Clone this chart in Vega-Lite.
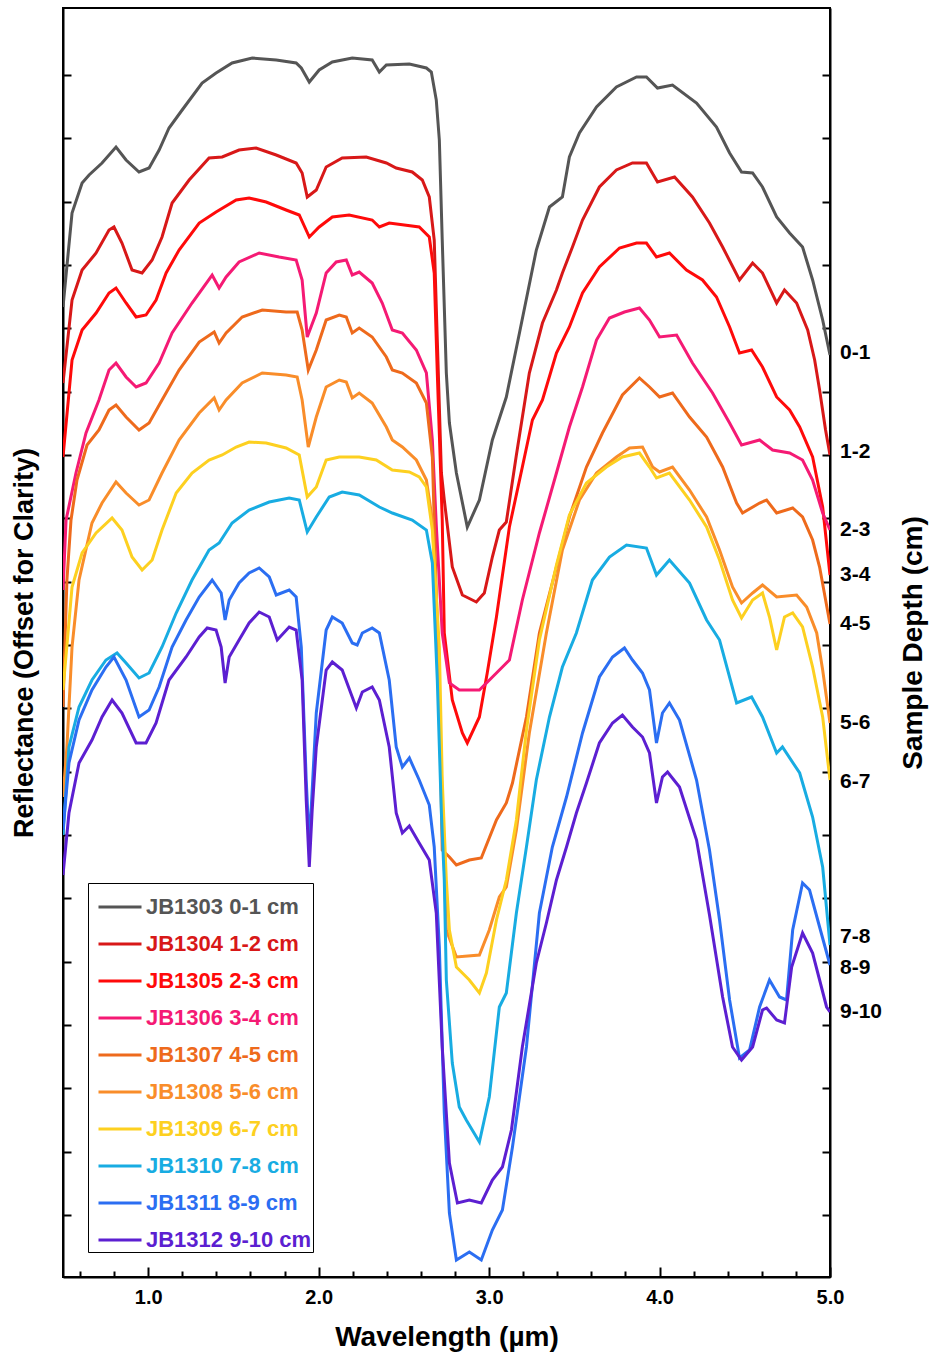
{
"$schema":"https://vega.github.io/schema/vega-lite/v6.json",
"width":767,"height":1269,
"autosize":{"type":"none"},
"padding":{"left":63,"top":8,"right":102,"bottom":80},
"background":"white",
"config":{
 "view":{"stroke":"black","strokeWidth":2},
 "font":"Liberation Sans",
 "axis":{"domainColor":"black","domainWidth":2,"tickColor":"black","tickWidth":2,"grid":false,"labelFont":"Liberation Sans","titleFont":"Liberation Sans","labelColor":"black","titleColor":"black"}
},
"datasets":{
"spectra":[
{"s":"JB1303 0-1 cm","w":0.5,"r":970},{"s":"JB1303 0-1 cm","w":0.553,"r":1064},{"s":"JB1303 0-1 cm","w":0.612,"r":1094},{"s":"JB1303 0-1 cm","w":0.653,"r":1102},{"s":"JB1303 0-1 cm","w":0.729,"r":1114},{"s":"JB1303 0-1 cm","w":0.811,"r":1130},{"s":"JB1303 0-1 cm","w":0.87,"r":1117},{"s":"JB1303 0-1 cm","w":0.946,"r":1105},{"s":"JB1303 0-1 cm","w":1.005,"r":1109},{"s":"JB1303 0-1 cm","w":1.064,"r":1127},{"s":"JB1303 0-1 cm","w":1.122,"r":1149},{"s":"JB1303 0-1 cm","w":1.199,"r":1167},{"s":"JB1303 0-1 cm","w":1.316,"r":1194},{"s":"JB1303 0-1 cm","w":1.398,"r":1204},{"s":"JB1303 0-1 cm","w":1.492,"r":1214},{"s":"JB1303 0-1 cm","w":1.61,"r":1219},{"s":"JB1303 0-1 cm","w":1.751,"r":1217},{"s":"JB1303 0-1 cm","w":1.868,"r":1214},{"s":"JB1303 0-1 cm","w":1.898,"r":1209},{"s":"JB1303 0-1 cm","w":1.945,"r":1195},{"s":"JB1303 0-1 cm","w":2.003,"r":1207},{"s":"JB1303 0-1 cm","w":2.08,"r":1215},{"s":"JB1303 0-1 cm","w":2.197,"r":1219},{"s":"JB1303 0-1 cm","w":2.314,"r":1217},{"s":"JB1303 0-1 cm","w":2.356,"r":1205},{"s":"JB1303 0-1 cm","w":2.397,"r":1212},{"s":"JB1303 0-1 cm","w":2.532,"r":1213},{"s":"JB1303 0-1 cm","w":2.632,"r":1209},{"s":"JB1303 0-1 cm","w":2.661,"r":1205},{"s":"JB1303 0-1 cm","w":2.69,"r":1177},{"s":"JB1303 0-1 cm","w":2.708,"r":1137},{"s":"JB1303 0-1 cm","w":2.725,"r":1037},{"s":"JB1303 0-1 cm","w":2.749,"r":904},{"s":"JB1303 0-1 cm","w":2.767,"r":854},{"s":"JB1303 0-1 cm","w":2.808,"r":804},{"s":"JB1303 0-1 cm","w":2.872,"r":750},{"s":"JB1303 0-1 cm","w":2.943,"r":777},{"s":"JB1303 0-1 cm","w":3.019,"r":837},{"s":"JB1303 0-1 cm","w":3.101,"r":880},{"s":"JB1303 0-1 cm","w":3.178,"r":944},{"s":"JB1303 0-1 cm","w":3.277,"r":1027},{"s":"JB1303 0-1 cm","w":3.354,"r":1070},{"s":"JB1303 0-1 cm","w":3.43,"r":1080},{"s":"JB1303 0-1 cm","w":3.471,"r":1120},{"s":"JB1303 0-1 cm","w":3.53,"r":1144},{"s":"JB1303 0-1 cm","w":3.63,"r":1170},{"s":"JB1303 0-1 cm","w":3.747,"r":1190},{"s":"JB1303 0-1 cm","w":3.865,"r":1200},{"s":"JB1303 0-1 cm","w":3.923,"r":1200},{"s":"JB1303 0-1 cm","w":3.988,"r":1189},{"s":"JB1303 0-1 cm","w":4.076,"r":1192},{"s":"JB1303 0-1 cm","w":4.217,"r":1174},{"s":"JB1303 0-1 cm","w":4.334,"r":1150},{"s":"JB1303 0-1 cm","w":4.411,"r":1124},{"s":"JB1303 0-1 cm","w":4.481,"r":1105},{"s":"JB1303 0-1 cm","w":4.546,"r":1104},{"s":"JB1303 0-1 cm","w":4.604,"r":1090},{"s":"JB1303 0-1 cm","w":4.687,"r":1060},{"s":"JB1303 0-1 cm","w":4.763,"r":1044},{"s":"JB1303 0-1 cm","w":4.839,"r":1030},{"s":"JB1303 0-1 cm","w":4.898,"r":997},{"s":"JB1303 0-1 cm","w":4.957,"r":957},{"s":"JB1303 0-1 cm","w":5.0,"r":922},

{"s":"JB1304 1-2 cm","w":0.5,"r":894},{"s":"JB1304 1-2 cm","w":0.553,"r":977},{"s":"JB1304 1-2 cm","w":0.612,"r":1007},{"s":"JB1304 1-2 cm","w":0.694,"r":1024},{"s":"JB1304 1-2 cm","w":0.77,"r":1047},{"s":"JB1304 1-2 cm","w":0.799,"r":1050},{"s":"JB1304 1-2 cm","w":0.846,"r":1034},{"s":"JB1304 1-2 cm","w":0.905,"r":1007},{"s":"JB1304 1-2 cm","w":0.964,"r":1004},{"s":"JB1304 1-2 cm","w":1.023,"r":1017},{"s":"JB1304 1-2 cm","w":1.081,"r":1040},{"s":"JB1304 1-2 cm","w":1.14,"r":1074},{"s":"JB1304 1-2 cm","w":1.24,"r":1097},{"s":"JB1304 1-2 cm","w":1.357,"r":1119},{"s":"JB1304 1-2 cm","w":1.434,"r":1120},{"s":"JB1304 1-2 cm","w":1.533,"r":1127},{"s":"JB1304 1-2 cm","w":1.633,"r":1129},{"s":"JB1304 1-2 cm","w":1.751,"r":1122},{"s":"JB1304 1-2 cm","w":1.868,"r":1114},{"s":"JB1304 1-2 cm","w":1.903,"r":1104},{"s":"JB1304 1-2 cm","w":1.933,"r":1080},{"s":"JB1304 1-2 cm","w":1.986,"r":1087},{"s":"JB1304 1-2 cm","w":2.044,"r":1110},{"s":"JB1304 1-2 cm","w":2.138,"r":1119},{"s":"JB1304 1-2 cm","w":2.279,"r":1120},{"s":"JB1304 1-2 cm","w":2.397,"r":1114},{"s":"JB1304 1-2 cm","w":2.455,"r":1109},{"s":"JB1304 1-2 cm","w":2.549,"r":1105},{"s":"JB1304 1-2 cm","w":2.608,"r":1097},{"s":"JB1304 1-2 cm","w":2.649,"r":1080},{"s":"JB1304 1-2 cm","w":2.678,"r":1037},{"s":"JB1304 1-2 cm","w":2.696,"r":937},{"s":"JB1304 1-2 cm","w":2.72,"r":804},{"s":"JB1304 1-2 cm","w":2.737,"r":777},{"s":"JB1304 1-2 cm","w":2.784,"r":710},{"s":"JB1304 1-2 cm","w":2.843,"r":682},{"s":"JB1304 1-2 cm","w":2.925,"r":675},{"s":"JB1304 1-2 cm","w":2.972,"r":684},{"s":"JB1304 1-2 cm","w":3.019,"r":720},{"s":"JB1304 1-2 cm","w":3.06,"r":747},{"s":"JB1304 1-2 cm","w":3.101,"r":755},{"s":"JB1304 1-2 cm","w":3.16,"r":822},{"s":"JB1304 1-2 cm","w":3.236,"r":904},{"s":"JB1304 1-2 cm","w":3.313,"r":954},{"s":"JB1304 1-2 cm","w":3.395,"r":987},{"s":"JB1304 1-2 cm","w":3.43,"r":1004},{"s":"JB1304 1-2 cm","w":3.489,"r":1030},{"s":"JB1304 1-2 cm","w":3.548,"r":1057},{"s":"JB1304 1-2 cm","w":3.647,"r":1090},{"s":"JB1304 1-2 cm","w":3.747,"r":1107},{"s":"JB1304 1-2 cm","w":3.841,"r":1114},{"s":"JB1304 1-2 cm","w":3.923,"r":1114},{"s":"JB1304 1-2 cm","w":3.988,"r":1095},{"s":"JB1304 1-2 cm","w":4.088,"r":1100},{"s":"JB1304 1-2 cm","w":4.193,"r":1080},{"s":"JB1304 1-2 cm","w":4.293,"r":1054},{"s":"JB1304 1-2 cm","w":4.37,"r":1030},{"s":"JB1304 1-2 cm","w":4.469,"r":997},{"s":"JB1304 1-2 cm","w":4.546,"r":1014},{"s":"JB1304 1-2 cm","w":4.604,"r":1004},{"s":"JB1304 1-2 cm","w":4.687,"r":974},{"s":"JB1304 1-2 cm","w":4.733,"r":987},{"s":"JB1304 1-2 cm","w":4.804,"r":974},{"s":"JB1304 1-2 cm","w":4.869,"r":947},{"s":"JB1304 1-2 cm","w":4.91,"r":917},{"s":"JB1304 1-2 cm","w":4.939,"r":887},{"s":"JB1304 1-2 cm","w":4.974,"r":847},{"s":"JB1304 1-2 cm","w":5.0,"r":822},

{"s":"JB1305 2-3 cm","w":0.5,"r":820},{"s":"JB1305 2-3 cm","w":0.553,"r":917},{"s":"JB1305 2-3 cm","w":0.612,"r":947},{"s":"JB1305 2-3 cm","w":0.694,"r":964},{"s":"JB1305 2-3 cm","w":0.77,"r":984},{"s":"JB1305 2-3 cm","w":0.811,"r":989},{"s":"JB1305 2-3 cm","w":0.87,"r":974},{"s":"JB1305 2-3 cm","w":0.929,"r":960},{"s":"JB1305 2-3 cm","w":0.987,"r":962},{"s":"JB1305 2-3 cm","w":1.046,"r":977},{"s":"JB1305 2-3 cm","w":1.105,"r":1004},{"s":"JB1305 2-3 cm","w":1.181,"r":1027},{"s":"JB1305 2-3 cm","w":1.299,"r":1054},{"s":"JB1305 2-3 cm","w":1.398,"r":1065},{"s":"JB1305 2-3 cm","w":1.516,"r":1077},{"s":"JB1305 2-3 cm","w":1.592,"r":1079},{"s":"JB1305 2-3 cm","w":1.692,"r":1075},{"s":"JB1305 2-3 cm","w":1.809,"r":1067},{"s":"JB1305 2-3 cm","w":1.886,"r":1062},{"s":"JB1305 2-3 cm","w":1.945,"r":1040},{"s":"JB1305 2-3 cm","w":2.003,"r":1050},{"s":"JB1305 2-3 cm","w":2.08,"r":1060},{"s":"JB1305 2-3 cm","w":2.179,"r":1062},{"s":"JB1305 2-3 cm","w":2.314,"r":1057},{"s":"JB1305 2-3 cm","w":2.356,"r":1050},{"s":"JB1305 2-3 cm","w":2.414,"r":1054},{"s":"JB1305 2-3 cm","w":2.59,"r":1050},{"s":"JB1305 2-3 cm","w":2.649,"r":1040},{"s":"JB1305 2-3 cm","w":2.678,"r":1004},{"s":"JB1305 2-3 cm","w":2.696,"r":904},{"s":"JB1305 2-3 cm","w":2.725,"r":757},{"s":"JB1305 2-3 cm","w":2.737,"r":644},{"s":"JB1305 2-3 cm","w":2.784,"r":577},{"s":"JB1305 2-3 cm","w":2.843,"r":544},{"s":"JB1305 2-3 cm","w":2.872,"r":534},{"s":"JB1305 2-3 cm","w":2.943,"r":560},{"s":"JB1305 2-3 cm","w":2.989,"r":604},{"s":"JB1305 2-3 cm","w":3.043,"r":660},{"s":"JB1305 2-3 cm","w":3.119,"r":750},{"s":"JB1305 2-3 cm","w":3.195,"r":810},{"s":"JB1305 2-3 cm","w":3.254,"r":857},{"s":"JB1305 2-3 cm","w":3.313,"r":877},{"s":"JB1305 2-3 cm","w":3.395,"r":924},{"s":"JB1305 2-3 cm","w":3.471,"r":950},{"s":"JB1305 2-3 cm","w":3.548,"r":984},{"s":"JB1305 2-3 cm","w":3.647,"r":1010},{"s":"JB1305 2-3 cm","w":3.765,"r":1029},{"s":"JB1305 2-3 cm","w":3.865,"r":1034},{"s":"JB1305 2-3 cm","w":3.923,"r":1034},{"s":"JB1305 2-3 cm","w":3.982,"r":1020},{"s":"JB1305 2-3 cm","w":4.058,"r":1024},{"s":"JB1305 2-3 cm","w":4.158,"r":1007},{"s":"JB1305 2-3 cm","w":4.252,"r":997},{"s":"JB1305 2-3 cm","w":4.334,"r":980},{"s":"JB1305 2-3 cm","w":4.411,"r":950},{"s":"JB1305 2-3 cm","w":4.469,"r":924},{"s":"JB1305 2-3 cm","w":4.54,"r":927},{"s":"JB1305 2-3 cm","w":4.604,"r":910},{"s":"JB1305 2-3 cm","w":4.687,"r":880},{"s":"JB1305 2-3 cm","w":4.763,"r":867},{"s":"JB1305 2-3 cm","w":4.822,"r":850},{"s":"JB1305 2-3 cm","w":4.898,"r":820},{"s":"JB1305 2-3 cm","w":4.957,"r":770},{"s":"JB1305 2-3 cm","w":5.0,"r":702},

{"s":"JB1306 3-4 cm","w":0.5,"r":687},{"s":"JB1306 3-4 cm","w":0.518,"r":757},{"s":"JB1306 3-4 cm","w":0.576,"r":804},{"s":"JB1306 3-4 cm","w":0.635,"r":844},{"s":"JB1306 3-4 cm","w":0.711,"r":877},{"s":"JB1306 3-4 cm","w":0.77,"r":907},{"s":"JB1306 3-4 cm","w":0.811,"r":914},{"s":"JB1306 3-4 cm","w":0.87,"r":900},{"s":"JB1306 3-4 cm","w":0.929,"r":890},{"s":"JB1306 3-4 cm","w":0.987,"r":894},{"s":"JB1306 3-4 cm","w":1.064,"r":914},{"s":"JB1306 3-4 cm","w":1.14,"r":944},{"s":"JB1306 3-4 cm","w":1.257,"r":974},{"s":"JB1306 3-4 cm","w":1.375,"r":1002},{"s":"JB1306 3-4 cm","w":1.416,"r":989},{"s":"JB1306 3-4 cm","w":1.457,"r":1000},{"s":"JB1306 3-4 cm","w":1.533,"r":1015},{"s":"JB1306 3-4 cm","w":1.651,"r":1024},{"s":"JB1306 3-4 cm","w":1.768,"r":1020},{"s":"JB1306 3-4 cm","w":1.868,"r":1017},{"s":"JB1306 3-4 cm","w":1.903,"r":997},{"s":"JB1306 3-4 cm","w":1.933,"r":940},{"s":"JB1306 3-4 cm","w":1.986,"r":964},{"s":"JB1306 3-4 cm","w":2.044,"r":1004},{"s":"JB1306 3-4 cm","w":2.103,"r":1015},{"s":"JB1306 3-4 cm","w":2.162,"r":1017},{"s":"JB1306 3-4 cm","w":2.197,"r":1002},{"s":"JB1306 3-4 cm","w":2.238,"r":1005},{"s":"JB1306 3-4 cm","w":2.314,"r":994},{"s":"JB1306 3-4 cm","w":2.373,"r":974},{"s":"JB1306 3-4 cm","w":2.432,"r":947},{"s":"JB1306 3-4 cm","w":2.491,"r":944},{"s":"JB1306 3-4 cm","w":2.573,"r":927},{"s":"JB1306 3-4 cm","w":2.632,"r":904},{"s":"JB1306 3-4 cm","w":2.667,"r":837},{"s":"JB1306 3-4 cm","w":2.69,"r":752},{"s":"JB1306 3-4 cm","w":2.725,"r":644},{"s":"JB1306 3-4 cm","w":2.767,"r":594},{"s":"JB1306 3-4 cm","w":2.825,"r":587},{"s":"JB1306 3-4 cm","w":2.943,"r":587},{"s":"JB1306 3-4 cm","w":3.043,"r":604},{"s":"JB1306 3-4 cm","w":3.119,"r":617},{"s":"JB1306 3-4 cm","w":3.195,"r":677},{"s":"JB1306 3-4 cm","w":3.295,"r":744},{"s":"JB1306 3-4 cm","w":3.395,"r":804},{"s":"JB1306 3-4 cm","w":3.471,"r":850},{"s":"JB1306 3-4 cm","w":3.548,"r":890},{"s":"JB1306 3-4 cm","w":3.63,"r":937},{"s":"JB1306 3-4 cm","w":3.706,"r":959},{"s":"JB1306 3-4 cm","w":3.794,"r":965},{"s":"JB1306 3-4 cm","w":3.882,"r":969},{"s":"JB1306 3-4 cm","w":3.941,"r":957},{"s":"JB1306 3-4 cm","w":4.0,"r":940},{"s":"JB1306 3-4 cm","w":4.1,"r":942},{"s":"JB1306 3-4 cm","w":4.193,"r":914},{"s":"JB1306 3-4 cm","w":4.311,"r":884},{"s":"JB1306 3-4 cm","w":4.411,"r":854},{"s":"JB1306 3-4 cm","w":4.481,"r":832},{"s":"JB1306 3-4 cm","w":4.587,"r":837},{"s":"JB1306 3-4 cm","w":4.663,"r":827},{"s":"JB1306 3-4 cm","w":4.763,"r":824},{"s":"JB1306 3-4 cm","w":4.839,"r":817},{"s":"JB1306 3-4 cm","w":4.898,"r":797},{"s":"JB1306 3-4 cm","w":4.957,"r":764},{"s":"JB1306 3-4 cm","w":5.0,"r":747},

{"s":"JB1307 4-5 cm","w":0.5,"r":570},{"s":"JB1307 4-5 cm","w":0.512,"r":637},{"s":"JB1307 4-5 cm","w":0.523,"r":697},{"s":"JB1307 4-5 cm","w":0.547,"r":757},{"s":"JB1307 4-5 cm","w":0.582,"r":797},{"s":"JB1307 4-5 cm","w":0.641,"r":832},{"s":"JB1307 4-5 cm","w":0.711,"r":847},{"s":"JB1307 4-5 cm","w":0.77,"r":867},{"s":"JB1307 4-5 cm","w":0.811,"r":872},{"s":"JB1307 4-5 cm","w":0.87,"r":860},{"s":"JB1307 4-5 cm","w":0.946,"r":847},{"s":"JB1307 4-5 cm","w":1.005,"r":854},{"s":"JB1307 4-5 cm","w":1.081,"r":877},{"s":"JB1307 4-5 cm","w":1.181,"r":907},{"s":"JB1307 4-5 cm","w":1.299,"r":935},{"s":"JB1307 4-5 cm","w":1.387,"r":945},{"s":"JB1307 4-5 cm","w":1.416,"r":934},{"s":"JB1307 4-5 cm","w":1.457,"r":944},{"s":"JB1307 4-5 cm","w":1.551,"r":960},{"s":"JB1307 4-5 cm","w":1.669,"r":967},{"s":"JB1307 4-5 cm","w":1.809,"r":965},{"s":"JB1307 4-5 cm","w":1.874,"r":965},{"s":"JB1307 4-5 cm","w":1.903,"r":947},{"s":"JB1307 4-5 cm","w":1.939,"r":907},{"s":"JB1307 4-5 cm","w":1.986,"r":927},{"s":"JB1307 4-5 cm","w":2.044,"r":957},{"s":"JB1307 4-5 cm","w":2.121,"r":962},{"s":"JB1307 4-5 cm","w":2.162,"r":960},{"s":"JB1307 4-5 cm","w":2.197,"r":944},{"s":"JB1307 4-5 cm","w":2.238,"r":949},{"s":"JB1307 4-5 cm","w":2.314,"r":940},{"s":"JB1307 4-5 cm","w":2.397,"r":920},{"s":"JB1307 4-5 cm","w":2.432,"r":907},{"s":"JB1307 4-5 cm","w":2.491,"r":904},{"s":"JB1307 4-5 cm","w":2.573,"r":894},{"s":"JB1307 4-5 cm","w":2.632,"r":874},{"s":"JB1307 4-5 cm","w":2.667,"r":820},{"s":"JB1307 4-5 cm","w":2.678,"r":757},{"s":"JB1307 4-5 cm","w":2.708,"r":577},{"s":"JB1307 4-5 cm","w":2.725,"r":427},{"s":"JB1307 4-5 cm","w":2.767,"r":420},{"s":"JB1307 4-5 cm","w":2.808,"r":412},{"s":"JB1307 4-5 cm","w":2.884,"r":417},{"s":"JB1307 4-5 cm","w":2.954,"r":419},{"s":"JB1307 4-5 cm","w":3.043,"r":457},{"s":"JB1307 4-5 cm","w":3.101,"r":474},{"s":"JB1307 4-5 cm","w":3.137,"r":494},{"s":"JB1307 4-5 cm","w":3.219,"r":560},{"s":"JB1307 4-5 cm","w":3.295,"r":644},{"s":"JB1307 4-5 cm","w":3.395,"r":710},{"s":"JB1307 4-5 cm","w":3.471,"r":760},{"s":"JB1307 4-5 cm","w":3.571,"r":810},{"s":"JB1307 4-5 cm","w":3.665,"r":844},{"s":"JB1307 4-5 cm","w":3.782,"r":882},{"s":"JB1307 4-5 cm","w":3.882,"r":899},{"s":"JB1307 4-5 cm","w":3.941,"r":890},{"s":"JB1307 4-5 cm","w":4.0,"r":880},{"s":"JB1307 4-5 cm","w":4.076,"r":884},{"s":"JB1307 4-5 cm","w":4.176,"r":860},{"s":"JB1307 4-5 cm","w":4.276,"r":840},{"s":"JB1307 4-5 cm","w":4.37,"r":810},{"s":"JB1307 4-5 cm","w":4.452,"r":774},{"s":"JB1307 4-5 cm","w":4.487,"r":764},{"s":"JB1307 4-5 cm","w":4.587,"r":774},{"s":"JB1307 4-5 cm","w":4.628,"r":777},{"s":"JB1307 4-5 cm","w":4.687,"r":764},{"s":"JB1307 4-5 cm","w":4.781,"r":769},{"s":"JB1307 4-5 cm","w":4.839,"r":760},{"s":"JB1307 4-5 cm","w":4.898,"r":737},{"s":"JB1307 4-5 cm","w":4.939,"r":710},{"s":"JB1307 4-5 cm","w":5.0,"r":653},

{"s":"JB1308 5-6 cm","w":0.5,"r":480},{"s":"JB1308 5-6 cm","w":0.523,"r":530},{"s":"JB1308 5-6 cm","w":0.553,"r":630},{"s":"JB1308 5-6 cm","w":0.594,"r":697},{"s":"JB1308 5-6 cm","w":0.67,"r":754},{"s":"JB1308 5-6 cm","w":0.729,"r":774},{"s":"JB1308 5-6 cm","w":0.811,"r":795},{"s":"JB1308 5-6 cm","w":0.87,"r":784},{"s":"JB1308 5-6 cm","w":0.946,"r":772},{"s":"JB1308 5-6 cm","w":1.005,"r":777},{"s":"JB1308 5-6 cm","w":1.081,"r":804},{"s":"JB1308 5-6 cm","w":1.181,"r":837},{"s":"JB1308 5-6 cm","w":1.299,"r":864},{"s":"JB1308 5-6 cm","w":1.387,"r":879},{"s":"JB1308 5-6 cm","w":1.416,"r":867},{"s":"JB1308 5-6 cm","w":1.457,"r":877},{"s":"JB1308 5-6 cm","w":1.551,"r":894},{"s":"JB1308 5-6 cm","w":1.669,"r":904},{"s":"JB1308 5-6 cm","w":1.809,"r":902},{"s":"JB1308 5-6 cm","w":1.874,"r":900},{"s":"JB1308 5-6 cm","w":1.903,"r":877},{"s":"JB1308 5-6 cm","w":1.939,"r":830},{"s":"JB1308 5-6 cm","w":1.986,"r":860},{"s":"JB1308 5-6 cm","w":2.044,"r":890},{"s":"JB1308 5-6 cm","w":2.121,"r":897},{"s":"JB1308 5-6 cm","w":2.162,"r":895},{"s":"JB1308 5-6 cm","w":2.197,"r":879},{"s":"JB1308 5-6 cm","w":2.238,"r":884},{"s":"JB1308 5-6 cm","w":2.314,"r":874},{"s":"JB1308 5-6 cm","w":2.397,"r":850},{"s":"JB1308 5-6 cm","w":2.432,"r":837},{"s":"JB1308 5-6 cm","w":2.491,"r":830},{"s":"JB1308 5-6 cm","w":2.573,"r":817},{"s":"JB1308 5-6 cm","w":2.632,"r":797},{"s":"JB1308 5-6 cm","w":2.667,"r":757},{"s":"JB1308 5-6 cm","w":2.69,"r":677},{"s":"JB1308 5-6 cm","w":2.708,"r":577},{"s":"JB1308 5-6 cm","w":2.725,"r":477},{"s":"JB1308 5-6 cm","w":2.749,"r":347},{"s":"JB1308 5-6 cm","w":2.808,"r":320},{"s":"JB1308 5-6 cm","w":2.943,"r":322},{"s":"JB1308 5-6 cm","w":3.001,"r":347},{"s":"JB1308 5-6 cm","w":3.06,"r":380},{"s":"JB1308 5-6 cm","w":3.101,"r":390},{"s":"JB1308 5-6 cm","w":3.16,"r":447},{"s":"JB1308 5-6 cm","w":3.236,"r":544},{"s":"JB1308 5-6 cm","w":3.336,"r":644},{"s":"JB1308 5-6 cm","w":3.43,"r":727},{"s":"JB1308 5-6 cm","w":3.53,"r":777},{"s":"JB1308 5-6 cm","w":3.63,"r":804},{"s":"JB1308 5-6 cm","w":3.747,"r":820},{"s":"JB1308 5-6 cm","w":3.824,"r":829},{"s":"JB1308 5-6 cm","w":3.9,"r":830},{"s":"JB1308 5-6 cm","w":3.959,"r":810},{"s":"JB1308 5-6 cm","w":4.0,"r":805},{"s":"JB1308 5-6 cm","w":4.076,"r":810},{"s":"JB1308 5-6 cm","w":4.176,"r":787},{"s":"JB1308 5-6 cm","w":4.276,"r":760},{"s":"JB1308 5-6 cm","w":4.352,"r":727},{"s":"JB1308 5-6 cm","w":4.428,"r":690},{"s":"JB1308 5-6 cm","w":4.481,"r":674},{"s":"JB1308 5-6 cm","w":4.546,"r":684},{"s":"JB1308 5-6 cm","w":4.604,"r":692},{"s":"JB1308 5-6 cm","w":4.687,"r":680},{"s":"JB1308 5-6 cm","w":4.804,"r":682},{"s":"JB1308 5-6 cm","w":4.863,"r":670},{"s":"JB1308 5-6 cm","w":4.922,"r":644},{"s":"JB1308 5-6 cm","w":4.957,"r":607},{"s":"JB1308 5-6 cm","w":5.0,"r":554},

{"s":"JB1309 6-7 cm","w":0.5,"r":587},{"s":"JB1309 6-7 cm","w":0.553,"r":690},{"s":"JB1309 6-7 cm","w":0.612,"r":724},{"s":"JB1309 6-7 cm","w":0.694,"r":744},{"s":"JB1309 6-7 cm","w":0.788,"r":759},{"s":"JB1309 6-7 cm","w":0.846,"r":747},{"s":"JB1309 6-7 cm","w":0.905,"r":720},{"s":"JB1309 6-7 cm","w":0.964,"r":707},{"s":"JB1309 6-7 cm","w":1.023,"r":717},{"s":"JB1309 6-7 cm","w":1.081,"r":747},{"s":"JB1309 6-7 cm","w":1.164,"r":784},{"s":"JB1309 6-7 cm","w":1.257,"r":804},{"s":"JB1309 6-7 cm","w":1.357,"r":817},{"s":"JB1309 6-7 cm","w":1.434,"r":822},{"s":"JB1309 6-7 cm","w":1.516,"r":830},{"s":"JB1309 6-7 cm","w":1.592,"r":835},{"s":"JB1309 6-7 cm","w":1.692,"r":834},{"s":"JB1309 6-7 cm","w":1.809,"r":829},{"s":"JB1309 6-7 cm","w":1.886,"r":822},{"s":"JB1309 6-7 cm","w":1.933,"r":780},{"s":"JB1309 6-7 cm","w":1.986,"r":790},{"s":"JB1309 6-7 cm","w":2.044,"r":817},{"s":"JB1309 6-7 cm","w":2.121,"r":820},{"s":"JB1309 6-7 cm","w":2.238,"r":820},{"s":"JB1309 6-7 cm","w":2.338,"r":817},{"s":"JB1309 6-7 cm","w":2.432,"r":807},{"s":"JB1309 6-7 cm","w":2.532,"r":805},{"s":"JB1309 6-7 cm","w":2.59,"r":800},{"s":"JB1309 6-7 cm","w":2.632,"r":790},{"s":"JB1309 6-7 cm","w":2.667,"r":747},{"s":"JB1309 6-7 cm","w":2.708,"r":630},{"s":"JB1309 6-7 cm","w":2.725,"r":497},{"s":"JB1309 6-7 cm","w":2.749,"r":397},{"s":"JB1309 6-7 cm","w":2.767,"r":347},{"s":"JB1309 6-7 cm","w":2.808,"r":310},{"s":"JB1309 6-7 cm","w":2.884,"r":297},{"s":"JB1309 6-7 cm","w":2.943,"r":284},{"s":"JB1309 6-7 cm","w":2.984,"r":304},{"s":"JB1309 6-7 cm","w":3.043,"r":357},{"s":"JB1309 6-7 cm","w":3.101,"r":397},{"s":"JB1309 6-7 cm","w":3.16,"r":457},{"s":"JB1309 6-7 cm","w":3.219,"r":547},{"s":"JB1309 6-7 cm","w":3.295,"r":637},{"s":"JB1309 6-7 cm","w":3.395,"r":712},{"s":"JB1309 6-7 cm","w":3.471,"r":762},{"s":"JB1309 6-7 cm","w":3.571,"r":794},{"s":"JB1309 6-7 cm","w":3.688,"r":810},{"s":"JB1309 6-7 cm","w":3.782,"r":820},{"s":"JB1309 6-7 cm","w":3.882,"r":824},{"s":"JB1309 6-7 cm","w":3.941,"r":810},{"s":"JB1309 6-7 cm","w":3.982,"r":799},{"s":"JB1309 6-7 cm","w":4.058,"r":804},{"s":"JB1309 6-7 cm","w":4.176,"r":777},{"s":"JB1309 6-7 cm","w":4.276,"r":750},{"s":"JB1309 6-7 cm","w":4.352,"r":717},{"s":"JB1309 6-7 cm","w":4.428,"r":677},{"s":"JB1309 6-7 cm","w":4.481,"r":659},{"s":"JB1309 6-7 cm","w":4.546,"r":677},{"s":"JB1309 6-7 cm","w":4.604,"r":684},{"s":"JB1309 6-7 cm","w":4.645,"r":660},{"s":"JB1309 6-7 cm","w":4.687,"r":627},{"s":"JB1309 6-7 cm","w":4.733,"r":660},{"s":"JB1309 6-7 cm","w":4.781,"r":664},{"s":"JB1309 6-7 cm","w":4.839,"r":650},{"s":"JB1309 6-7 cm","w":4.898,"r":610},{"s":"JB1309 6-7 cm","w":4.957,"r":560},{"s":"JB1309 6-7 cm","w":5.0,"r":497},

{"s":"JB1310 7-8 cm","w":0.5,"r":442},{"s":"JB1310 7-8 cm","w":0.535,"r":530},{"s":"JB1310 7-8 cm","w":0.594,"r":570},{"s":"JB1310 7-8 cm","w":0.67,"r":597},{"s":"JB1310 7-8 cm","w":0.752,"r":617},{"s":"JB1310 7-8 cm","w":0.817,"r":624},{"s":"JB1310 7-8 cm","w":0.87,"r":614},{"s":"JB1310 7-8 cm","w":0.946,"r":599},{"s":"JB1310 7-8 cm","w":1.005,"r":604},{"s":"JB1310 7-8 cm","w":1.081,"r":630},{"s":"JB1310 7-8 cm","w":1.164,"r":664},{"s":"JB1310 7-8 cm","w":1.257,"r":697},{"s":"JB1310 7-8 cm","w":1.357,"r":727},{"s":"JB1310 7-8 cm","w":1.416,"r":734},{"s":"JB1310 7-8 cm","w":1.492,"r":754},{"s":"JB1310 7-8 cm","w":1.592,"r":767},{"s":"JB1310 7-8 cm","w":1.71,"r":775},{"s":"JB1310 7-8 cm","w":1.827,"r":779},{"s":"JB1310 7-8 cm","w":1.886,"r":777},{"s":"JB1310 7-8 cm","w":1.933,"r":745},{"s":"JB1310 7-8 cm","w":1.986,"r":760},{"s":"JB1310 7-8 cm","w":2.062,"r":780},{"s":"JB1310 7-8 cm","w":2.138,"r":785},{"s":"JB1310 7-8 cm","w":2.238,"r":782},{"s":"JB1310 7-8 cm","w":2.356,"r":770},{"s":"JB1310 7-8 cm","w":2.432,"r":764},{"s":"JB1310 7-8 cm","w":2.549,"r":757},{"s":"JB1310 7-8 cm","w":2.632,"r":747},{"s":"JB1310 7-8 cm","w":2.667,"r":714},{"s":"JB1310 7-8 cm","w":2.696,"r":597},{"s":"JB1310 7-8 cm","w":2.72,"r":464},{"s":"JB1310 7-8 cm","w":2.737,"r":397},{"s":"JB1310 7-8 cm","w":2.749,"r":297},{"s":"JB1310 7-8 cm","w":2.784,"r":214},{"s":"JB1310 7-8 cm","w":2.825,"r":170},{"s":"JB1310 7-8 cm","w":2.866,"r":157},{"s":"JB1310 7-8 cm","w":2.943,"r":135},{"s":"JB1310 7-8 cm","w":3.001,"r":180},{"s":"JB1310 7-8 cm","w":3.06,"r":270},{"s":"JB1310 7-8 cm","w":3.101,"r":284},{"s":"JB1310 7-8 cm","w":3.16,"r":364},{"s":"JB1310 7-8 cm","w":3.219,"r":430},{"s":"JB1310 7-8 cm","w":3.277,"r":497},{"s":"JB1310 7-8 cm","w":3.354,"r":560},{"s":"JB1310 7-8 cm","w":3.43,"r":610},{"s":"JB1310 7-8 cm","w":3.512,"r":644},{"s":"JB1310 7-8 cm","w":3.606,"r":697},{"s":"JB1310 7-8 cm","w":3.706,"r":720},{"s":"JB1310 7-8 cm","w":3.806,"r":732},{"s":"JB1310 7-8 cm","w":3.923,"r":729},{"s":"JB1310 7-8 cm","w":3.982,"r":702},{"s":"JB1310 7-8 cm","w":4.058,"r":717},{"s":"JB1310 7-8 cm","w":4.176,"r":694},{"s":"JB1310 7-8 cm","w":4.276,"r":657},{"s":"JB1310 7-8 cm","w":4.352,"r":637},{"s":"JB1310 7-8 cm","w":4.452,"r":574},{"s":"JB1310 7-8 cm","w":4.54,"r":580},{"s":"JB1310 7-8 cm","w":4.604,"r":560},{"s":"JB1310 7-8 cm","w":4.687,"r":524},{"s":"JB1310 7-8 cm","w":4.721,"r":530},{"s":"JB1310 7-8 cm","w":4.822,"r":504},{"s":"JB1310 7-8 cm","w":4.898,"r":460},{"s":"JB1310 7-8 cm","w":4.957,"r":410},{"s":"JB1310 7-8 cm","w":5.0,"r":332},

{"s":"JB1311 8-9 cm","w":0.5,"r":447},{"s":"JB1311 8-9 cm","w":0.535,"r":514},{"s":"JB1311 8-9 cm","w":0.594,"r":557},{"s":"JB1311 8-9 cm","w":0.67,"r":587},{"s":"JB1311 8-9 cm","w":0.752,"r":610},{"s":"JB1311 8-9 cm","w":0.799,"r":620},{"s":"JB1311 8-9 cm","w":0.87,"r":597},{"s":"JB1311 8-9 cm","w":0.946,"r":560},{"s":"JB1311 8-9 cm","w":1.005,"r":567},{"s":"JB1311 8-9 cm","w":1.064,"r":590},{"s":"JB1311 8-9 cm","w":1.14,"r":630},{"s":"JB1311 8-9 cm","w":1.222,"r":657},{"s":"JB1311 8-9 cm","w":1.299,"r":680},{"s":"JB1311 8-9 cm","w":1.375,"r":697},{"s":"JB1311 8-9 cm","w":1.428,"r":684},{"s":"JB1311 8-9 cm","w":1.451,"r":657},{"s":"JB1311 8-9 cm","w":1.475,"r":677},{"s":"JB1311 8-9 cm","w":1.533,"r":694},{"s":"JB1311 8-9 cm","w":1.592,"r":704},{"s":"JB1311 8-9 cm","w":1.651,"r":709},{"s":"JB1311 8-9 cm","w":1.71,"r":700},{"s":"JB1311 8-9 cm","w":1.751,"r":682},{"s":"JB1311 8-9 cm","w":1.827,"r":687},{"s":"JB1311 8-9 cm","w":1.868,"r":680},{"s":"JB1311 8-9 cm","w":1.898,"r":630},{"s":"JB1311 8-9 cm","w":1.927,"r":497},{"s":"JB1311 8-9 cm","w":1.945,"r":432},{"s":"JB1311 8-9 cm","w":1.962,"r":487},{"s":"JB1311 8-9 cm","w":1.986,"r":564},{"s":"JB1311 8-9 cm","w":2.044,"r":647},{"s":"JB1311 8-9 cm","w":2.08,"r":660},{"s":"JB1311 8-9 cm","w":2.138,"r":654},{"s":"JB1311 8-9 cm","w":2.197,"r":634},{"s":"JB1311 8-9 cm","w":2.226,"r":632},{"s":"JB1311 8-9 cm","w":2.256,"r":644},{"s":"JB1311 8-9 cm","w":2.314,"r":649},{"s":"JB1311 8-9 cm","w":2.356,"r":644},{"s":"JB1311 8-9 cm","w":2.414,"r":597},{"s":"JB1311 8-9 cm","w":2.455,"r":530},{"s":"JB1311 8-9 cm","w":2.491,"r":510},{"s":"JB1311 8-9 cm","w":2.532,"r":519},{"s":"JB1311 8-9 cm","w":2.59,"r":497},{"s":"JB1311 8-9 cm","w":2.649,"r":472},{"s":"JB1311 8-9 cm","w":2.678,"r":430},{"s":"JB1311 8-9 cm","w":2.708,"r":330},{"s":"JB1311 8-9 cm","w":2.737,"r":164},{"s":"JB1311 8-9 cm","w":2.767,"r":64},{"s":"JB1311 8-9 cm","w":2.808,"r":17},{"s":"JB1311 8-9 cm","w":2.884,"r":25},{"s":"JB1311 8-9 cm","w":2.954,"r":17},{"s":"JB1311 8-9 cm","w":3.019,"r":47},{"s":"JB1311 8-9 cm","w":3.078,"r":67},{"s":"JB1311 8-9 cm","w":3.137,"r":130},{"s":"JB1311 8-9 cm","w":3.219,"r":230},{"s":"JB1311 8-9 cm","w":3.295,"r":364},{"s":"JB1311 8-9 cm","w":3.371,"r":430},{"s":"JB1311 8-9 cm","w":3.454,"r":480},{"s":"JB1311 8-9 cm","w":3.548,"r":544},{"s":"JB1311 8-9 cm","w":3.647,"r":600},{"s":"JB1311 8-9 cm","w":3.724,"r":620},{"s":"JB1311 8-9 cm","w":3.794,"r":629},{"s":"JB1311 8-9 cm","w":3.841,"r":617},{"s":"JB1311 8-9 cm","w":3.9,"r":604},{"s":"JB1311 8-9 cm","w":3.941,"r":587},{"s":"JB1311 8-9 cm","w":3.982,"r":534},{"s":"JB1311 8-9 cm","w":4.017,"r":564},{"s":"JB1311 8-9 cm","w":4.058,"r":574},{"s":"JB1311 8-9 cm","w":4.117,"r":557},{"s":"JB1311 8-9 cm","w":4.217,"r":497},{"s":"JB1311 8-9 cm","w":4.293,"r":427},{"s":"JB1311 8-9 cm","w":4.352,"r":357},{"s":"JB1311 8-9 cm","w":4.411,"r":277},{"s":"JB1311 8-9 cm","w":4.469,"r":219},{"s":"JB1311 8-9 cm","w":4.528,"r":227},{"s":"JB1311 8-9 cm","w":4.587,"r":270},{"s":"JB1311 8-9 cm","w":4.645,"r":297},{"s":"JB1311 8-9 cm","w":4.704,"r":280},{"s":"JB1311 8-9 cm","w":4.745,"r":277},{"s":"JB1311 8-9 cm","w":4.781,"r":347},{"s":"JB1311 8-9 cm","w":4.839,"r":394},{"s":"JB1311 8-9 cm","w":4.88,"r":387},{"s":"JB1311 8-9 cm","w":4.939,"r":350},{"s":"JB1311 8-9 cm","w":5.0,"r":312},

{"s":"JB1312 9-10 cm","w":0.5,"r":402},{"s":"JB1312 9-10 cm","w":0.535,"r":464},{"s":"JB1312 9-10 cm","w":0.594,"r":514},{"s":"JB1312 9-10 cm","w":0.67,"r":537},{"s":"JB1312 9-10 cm","w":0.729,"r":560},{"s":"JB1312 9-10 cm","w":0.788,"r":577},{"s":"JB1312 9-10 cm","w":0.846,"r":564},{"s":"JB1312 9-10 cm","w":0.929,"r":534},{"s":"JB1312 9-10 cm","w":0.987,"r":534},{"s":"JB1312 9-10 cm","w":1.046,"r":554},{"s":"JB1312 9-10 cm","w":1.122,"r":597},{"s":"JB1312 9-10 cm","w":1.222,"r":620},{"s":"JB1312 9-10 cm","w":1.299,"r":640},{"s":"JB1312 9-10 cm","w":1.346,"r":649},{"s":"JB1312 9-10 cm","w":1.398,"r":647},{"s":"JB1312 9-10 cm","w":1.428,"r":630},{"s":"JB1312 9-10 cm","w":1.451,"r":594},{"s":"JB1312 9-10 cm","w":1.475,"r":620},{"s":"JB1312 9-10 cm","w":1.533,"r":637},{"s":"JB1312 9-10 cm","w":1.592,"r":654},{"s":"JB1312 9-10 cm","w":1.651,"r":665},{"s":"JB1312 9-10 cm","w":1.71,"r":660},{"s":"JB1312 9-10 cm","w":1.757,"r":637},{"s":"JB1312 9-10 cm","w":1.827,"r":650},{"s":"JB1312 9-10 cm","w":1.868,"r":647},{"s":"JB1312 9-10 cm","w":1.903,"r":597},{"s":"JB1312 9-10 cm","w":1.927,"r":477},{"s":"JB1312 9-10 cm","w":1.945,"r":410},{"s":"JB1312 9-10 cm","w":1.962,"r":467},{"s":"JB1312 9-10 cm","w":1.986,"r":530},{"s":"JB1312 9-10 cm","w":2.044,"r":607},{"s":"JB1312 9-10 cm","w":2.08,"r":615},{"s":"JB1312 9-10 cm","w":2.138,"r":607},{"s":"JB1312 9-10 cm","w":2.197,"r":580},{"s":"JB1312 9-10 cm","w":2.221,"r":569},{"s":"JB1312 9-10 cm","w":2.256,"r":585},{"s":"JB1312 9-10 cm","w":2.314,"r":590},{"s":"JB1312 9-10 cm","w":2.356,"r":577},{"s":"JB1312 9-10 cm","w":2.414,"r":530},{"s":"JB1312 9-10 cm","w":2.455,"r":464},{"s":"JB1312 9-10 cm","w":2.491,"r":444},{"s":"JB1312 9-10 cm","w":2.532,"r":451},{"s":"JB1312 9-10 cm","w":2.59,"r":434},{"s":"JB1312 9-10 cm","w":2.649,"r":417},{"s":"JB1312 9-10 cm","w":2.69,"r":364},{"s":"JB1312 9-10 cm","w":2.725,"r":230},{"s":"JB1312 9-10 cm","w":2.767,"r":114},{"s":"JB1312 9-10 cm","w":2.814,"r":74},{"s":"JB1312 9-10 cm","w":2.884,"r":77},{"s":"JB1312 9-10 cm","w":2.954,"r":74},{"s":"JB1312 9-10 cm","w":3.019,"r":97},{"s":"JB1312 9-10 cm","w":3.078,"r":110},{"s":"JB1312 9-10 cm","w":3.131,"r":147},{"s":"JB1312 9-10 cm","w":3.195,"r":230},{"s":"JB1312 9-10 cm","w":3.277,"r":314},{"s":"JB1312 9-10 cm","w":3.336,"r":354},{"s":"JB1312 9-10 cm","w":3.395,"r":397},{"s":"JB1312 9-10 cm","w":3.454,"r":430},{"s":"JB1312 9-10 cm","w":3.512,"r":464},{"s":"JB1312 9-10 cm","w":3.571,"r":494},{"s":"JB1312 9-10 cm","w":3.647,"r":534},{"s":"JB1312 9-10 cm","w":3.724,"r":554},{"s":"JB1312 9-10 cm","w":3.782,"r":562},{"s":"JB1312 9-10 cm","w":3.841,"r":550},{"s":"JB1312 9-10 cm","w":3.9,"r":540},{"s":"JB1312 9-10 cm","w":3.941,"r":524},{"s":"JB1312 9-10 cm","w":3.982,"r":474},{"s":"JB1312 9-10 cm","w":4.017,"r":500},{"s":"JB1312 9-10 cm","w":4.047,"r":505},{"s":"JB1312 9-10 cm","w":4.117,"r":490},{"s":"JB1312 9-10 cm","w":4.217,"r":437},{"s":"JB1312 9-10 cm","w":4.293,"r":362},{"s":"JB1312 9-10 cm","w":4.37,"r":280},{"s":"JB1312 9-10 cm","w":4.428,"r":230},{"s":"JB1312 9-10 cm","w":4.481,"r":217},{"s":"JB1312 9-10 cm","w":4.546,"r":230},{"s":"JB1312 9-10 cm","w":4.604,"r":267},{"s":"JB1312 9-10 cm","w":4.628,"r":269},{"s":"JB1312 9-10 cm","w":4.687,"r":257},{"s":"JB1312 9-10 cm","w":4.733,"r":254},{"s":"JB1312 9-10 cm","w":4.775,"r":310},{"s":"JB1312 9-10 cm","w":4.839,"r":344},{"s":"JB1312 9-10 cm","w":4.898,"r":324},{"s":"JB1312 9-10 cm","w":4.939,"r":297},{"s":"JB1312 9-10 cm","w":4.98,"r":270},{"s":"JB1312 9-10 cm","w":5.0,"r":265}
],
"labels":[
{"lab":"0-1","w":5,"r":924},{"lab":"1-2","w":5,"r":825},{"lab":"2-3","w":5,"r":747},{"lab":"3-4","w":5,"r":702},{"lab":"4-5","w":5,"r":653},{"lab":"5-6","w":5,"r":554},{"lab":"6-7","w":5,"r":495},{"lab":"7-8","w":5,"r":340},{"lab":"8-9","w":5,"r":309},{"lab":"9-10","w":5,"r":265}
]
},
"layer":[
{
 "data":{"name":"spectra"},
 "mark":{"type":"line","strokeWidth":3,"clip":true},
 "encoding":{
  "x":{"field":"w","type":"quantitative","scale":{"domain":[0.5,5.0],"nice":false,"zero":false},
   "axis":{"orient":"bottom","values":[0.6,0.8,1,1.2,1.4,1.6,1.8,2,2.2,2.4,2.6,2.8,3,3.2,3.4,3.6,3.8,4,4.2,4.4,4.6,4.8,5],
    "tickSize":{"condition":{"test":"datum.value % 1 === 0","value":-10},"value":-6},
    "labelExpr":"datum.value % 1 === 0 ? format(datum.value, '.1f') : ''",
    "labelFontSize":20,"labelFontWeight":"bold","labelPadding":20,"labelFlush":false,"labelOverlap":false,
    "title":"Wavelength (µm)","titleFontSize":28,"titleFontWeight":"bold","titlePadding":12}},
  "y":{"field":"r","type":"quantitative","scale":{"domain":[0,1269],"nice":false,"zero":false},
   "axis":{"orient":"left","values":[62,125.3,188.7,252,315.3,378.7,442,505.3,568.7,632,695.3,758.7,822,885.3,948.7,1012,1075.3,1138.7,1202],
    "tickSize":-8,"labels":false,
    "title":"Reflectance (Offset for Clarity)","titleFontSize":27,"titleFontWeight":"bold","titlePadding":24}},
  "color":{"field":"s","type":"nominal",
   "scale":{"domain":["JB1303 0-1 cm","JB1304 1-2 cm","JB1305 2-3 cm","JB1306 3-4 cm","JB1307 4-5 cm","JB1308 5-6 cm","JB1309 6-7 cm","JB1310 7-8 cm","JB1311 8-9 cm","JB1312 9-10 cm"],
            "range":["#555555","#d81818","#ff0a0a","#f51a74","#ee6a1c","#f98d2a","#fdd020","#18ace2","#2b6ef2","#5c1fd1"]},
   "legend":{"orient":"none","legendX":25,"legendY":875,"title":null,
    "symbolType":"stroke","symbolStrokeWidth":3,"symbolSize":1849,"symbolOffset":8,
    "labelFontSize":22,"labelFontWeight":"bold","labelFont":"Liberation Sans","labelLimit":400,"labelOffset":3,
    "strokeColor":"black","fillColor":"white","padding":1,"rowPadding":3,
    "encode":{"labels":{"update":{"fill":{"scale":"color","field":"value"}}}}}}
 }
},
{
 "data":{"name":"labels"},
 "mark":{"type":"text","align":"left","dx":10,"fontSize":21,"fontWeight":"bold","baseline":"middle","color":"black","font":"Liberation Sans"},
 "encoding":{
  "x":{"field":"w","type":"quantitative","scale":{"domain":[0.5,5.0],"nice":false,"zero":false},
   "axis":{"orient":"bottom","values":[0.6,0.8,1,1.2,1.4,1.6,1.8,2,2.2,2.4,2.6,2.8,3,3.2,3.4,3.6,3.8,4,4.2,4.4,4.6,4.8,5],
    "tickSize":{"condition":{"test":"datum.value % 1 === 0","value":-10},"value":-6},
    "labelExpr":"datum.value % 1 === 0 ? format(datum.value, '.1f') : ''",
    "labelFontSize":20,"labelFontWeight":"bold","labelPadding":20,"labelFlush":false,"labelOverlap":false,
    "title":"Wavelength (µm)","titleFontSize":28,"titleFontWeight":"bold","titlePadding":12}},
  "y":{"field":"r","type":"quantitative","scale":{"domain":[0,1269],"nice":false,"zero":false},
   "axis":{"orient":"right","values":[62,125.3,188.7,252,315.3,378.7,442,505.3,568.7,632,695.3,758.7,822,885.3,948.7,1012,1075.3,1138.7,1202],
    "tickSize":-8,"labels":false,
    "title":"Sample Depth (cm)","titleFontSize":28,"titleFontWeight":"bold","titleAngle":270,"titleBaseline":"top","titlePadding":68}},
  "text":{"field":"lab"}
 }
}
],
"resolve":{"axis":{"y":"independent"}}
}
